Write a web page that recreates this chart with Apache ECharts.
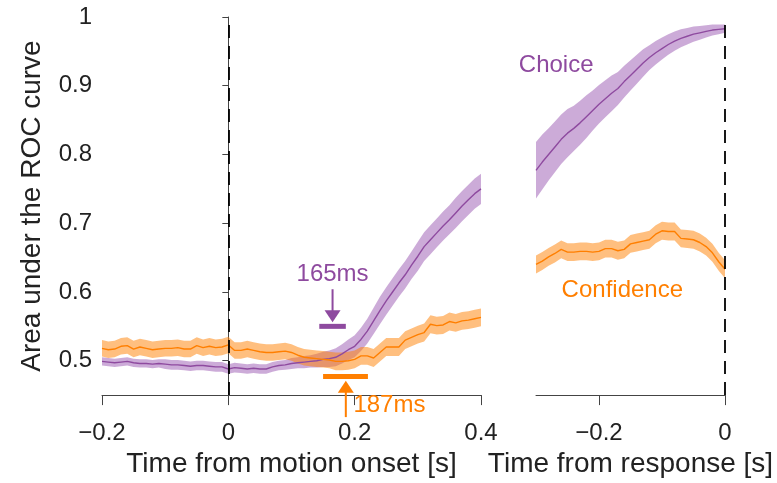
<!DOCTYPE html>
<html>
<head>
<meta charset="utf-8">
<script src="https://cdn.jsdelivr.net/npm/echarts@6/dist/echarts.min.js"></script>
<style>
  html, body { margin: 0; padding: 0; background: #fff; }
  #chart { width: 777px; height: 483px; }
</style>
</head>
<body>
<div id="chart"></div>
<script>
// Time axes (s)
const onsetTimes = [-0.20,-0.19,-0.18,-0.17,-0.16,-0.15,-0.14,-0.13,-0.12,-0.11,-0.10,-0.09,-0.08,-0.07,-0.06,-0.05,-0.04,-0.03,-0.02,-0.01,
  0.00,0.01,0.02,0.03,0.04,0.05,0.06,0.07,0.08,0.09,0.10,0.11,0.12,0.13,0.14,0.15,0.16,0.17,0.18,0.19,
  0.20,0.21,0.22,0.23,0.24,0.25,0.26,0.27,0.28,0.29,0.30,0.31,0.32,0.33,0.34,0.35,0.36,0.37,0.38,0.39,0.40];
const responseTimes = [-0.30,-0.29,-0.28,-0.27,-0.26,-0.25,-0.24,-0.23,-0.22,-0.21,-0.20,-0.19,-0.18,-0.17,-0.16,
  -0.15,-0.14,-0.13,-0.12,-0.11,-0.10,-0.09,-0.08,-0.07,-0.06,-0.05,-0.04,-0.03,-0.02,-0.01,0.00];

// Choice AUC aligned to motion onset, mean and half-width of the shaded band
const choiceOnset = [0.499,0.498,0.497,0.498,0.499,0.497,0.496,0.496,0.495,0.496,0.495,0.494,0.494,0.493,0.492,0.493,0.493,0.492,0.491,0.491,
  0.488,0.490,0.489,0.488,0.489,0.488,0.488,0.491,0.493,0.494,0.496,0.497,0.498,0.499,0.500,0.502,0.503,0.505,0.510,0.516,
  0.521,0.531,0.543,0.558,0.573,0.587,0.600,0.613,0.625,0.639,0.652,0.666,0.676,0.686,0.696,0.705,0.715,0.725,0.734,0.743,0.750];
const choiceOnsetErr = [0.006,0.006,0.006,0.006,0.006,0.006,0.006,0.006,0.006,0.006,0.007,0.007,0.007,0.007,0.007,0.007,0.007,0.007,0.007,0.007,
  0.007,0.007,0.007,0.007,0.007,0.007,0.007,0.007,0.007,0.007,0.008,0.008,0.009,0.009,0.010,0.011,0.012,0.013,0.014,0.015,
  0.016,0.017,0.018,0.019,0.020,0.020,0.020,0.020,0.020,0.020,0.021,0.021,0.021,0.021,0.021,0.021,0.022,0.022,0.022,0.022,0.022];

// Confidence AUC aligned to motion onset
const confOnset = [0.518,0.516,0.517,0.521,0.522,0.517,0.520,0.518,0.516,0.517,0.518,0.518,0.519,0.517,0.517,0.522,0.519,0.521,0.519,0.520,
  0.523,0.515,0.515,0.517,0.515,0.513,0.512,0.512,0.513,0.514,0.512,0.508,0.505,0.504,0.503,0.502,0.501,0.499,0.499,0.500,
  0.502,0.507,0.507,0.504,0.512,0.520,0.520,0.520,0.530,0.534,0.538,0.541,0.553,0.551,0.552,0.557,0.555,0.558,0.559,0.561,0.563];
const confOnsetErr = [0.012,0.012,0.012,0.012,0.012,0.012,0.012,0.012,0.012,0.012,0.012,0.012,0.012,0.012,0.012,0.012,0.012,0.012,0.012,0.012,
  0.012,0.012,0.012,0.012,0.012,0.012,0.012,0.012,0.012,0.012,0.012,0.012,0.012,0.012,0.012,0.012,0.012,0.013,0.013,0.013,
  0.013,0.013,0.013,0.013,0.013,0.013,0.013,0.013,0.013,0.013,0.013,0.013,0.013,0.013,0.013,0.013,0.013,0.013,0.013,0.013,0.013];

// Choice AUC aligned to response
const choiceResp = [0.777,0.789,0.800,0.811,0.822,0.831,0.838,0.846,0.855,0.864,0.873,0.881,0.889,0.896,0.906,
  0.915,0.924,0.933,0.941,0.948,0.954,0.960,0.965,0.969,0.972,0.975,0.977,0.979,0.981,0.982,0.983];
const choiceRespErr = [0.041,0.040,0.038,0.037,0.036,0.035,0.033,0.032,0.031,0.029,0.028,0.027,0.026,0.024,0.023,
  0.022,0.021,0.020,0.018,0.017,0.016,0.015,0.014,0.013,0.012,0.011,0.010,0.009,0.008,0.007,0.006];

// Confidence AUC aligned to response
const confResp = [0.640,0.645,0.651,0.656,0.662,0.658,0.658,0.659,0.659,0.658,0.659,0.663,0.663,0.660,0.662,
  0.670,0.672,0.674,0.676,0.684,0.689,0.688,0.688,0.678,0.677,0.676,0.672,0.666,0.657,0.644,0.633];
const confRespErr = [0.013,0.013,0.013,0.013,0.013,0.013,0.013,0.013,0.013,0.013,0.013,0.013,0.013,0.013,0.013,
  0.013,0.013,0.013,0.013,0.013,0.013,0.013,0.013,0.013,0.013,0.013,0.013,0.013,0.013,0.013,0.013];

// Axis ticks
const yTicks = [0.5, 0.6, 0.7, 0.8, 0.9, 1.0];
const onsetTicks = [-0.2, 0, 0.2, 0.4];
const responseTicks = [-0.2, 0];

// Latency markers (s)
const choiceLatency = 0.165;
const confLatency = 0.187;

const PURPLE = '#8e4a9f';
const PURPLE_BAND = 'rgba(142,68,168,0.45)';
const ORANGE = '#ff7f00';
const ORANGE_BAND = 'rgba(255,127,0,0.5)';
const FONT = '"Liberation Sans", Arial, Helvetica, sans-serif';
const AXIS = '#444';
const TEXT = '#222';
const TICK_SIZE = 24;
const TITLE_SIZE = 28;

const chart = echarts.init(document.getElementById('chart'), null, { renderer: 'canvas' });

const pairs = (xs, ys) => xs.map((x, i) => [x, ys[i]]);

// Shaded band drawn as a polygon through the axis scales
function band(gridIdx, xs, mean, err, fill, z) {
  return {
    type: 'custom',
    xAxisIndex: gridIdx, yAxisIndex: gridIdx,
    z: z, silent: true,
    data: [[xs[0], mean[0]]],
    renderItem: function (params, api) {
      const pts = [];
      for (let i = 0; i < xs.length; i++) pts.push(api.coord([xs[i], mean[i] + err[i]]));
      for (let i = xs.length - 1; i >= 0; i--) pts.push(api.coord([xs[i], mean[i] - err[i]]));
      return { type: 'polygon', shape: { points: pts }, style: { fill: fill } };
    }
  };
}

function meanLine(gridIdx, xs, mean, color, z, extra) {
  return Object.assign({
    type: 'line', xAxisIndex: gridIdx, yAxisIndex: gridIdx,
    data: pairs(xs, mean), symbol: 'none', z: z, silent: true,
    lineStyle: { color: color, width: 1.4 }, animation: false
  }, extra || {});
}

const zeroLine = {
  symbol: 'none', silent: true, animation: false,
  label: { show: false },
  lineStyle: { color: '#000', width: 1.8, type: [13, 8] },
  data: [{ xAxis: 0 }]
};

// Tick text with a typographic minus sign
const tickFmt = v => (Math.abs(v) < 1e-9 ? '0' : String(+v.toFixed(2)).replace('-', '\u2212'));

function xAxisCfg(gridIdx, min, max, ticks, title) {
  return {
    gridIndex: gridIdx, type: 'value', min: min, max: max, interval: 0.1,
    name: title, nameLocation: 'middle', nameGap: 53,
    nameTextStyle: { fontFamily: FONT, fontSize: TITLE_SIZE, color: TEXT },
    axisLine: { show: true, lineStyle: { color: AXIS, width: 1 } },
    axisTick: { show: true, inside: false, length: 10, lineStyle: { color: AXIS }, customValues: ticks },
    axisLabel: { fontFamily: FONT, fontSize: TICK_SIZE, color: TEXT, margin: 26, formatter: tickFmt, customValues: ticks },
    splitLine: { show: false }
  };
}

const option = {
  animation: false,
  backgroundColor: '#fff',
  textStyle: { fontFamily: FONT },
  grid: [
    { left: 102, right: 296, top: 17, bottom: 84 },
    { left: 536, right: 52, top: 17, bottom: 84 }
  ],
  xAxis: [
    xAxisCfg(0, -0.2, 0.4, onsetTicks, 'Time from motion onset [s]'),
    xAxisCfg(1, -0.3, 0, responseTicks, 'Time from response [s]')
  ],
  yAxis: [
    {
      gridIndex: 0, type: 'value', min: 0.45, max: 1, interval: 0.05,
      name: 'Area under the ROC curve', nameLocation: 'middle', nameGap: 56, nameRotate: 90,
      nameTextStyle: { fontFamily: FONT, fontSize: TITLE_SIZE, color: TEXT },
      axisLine: { show: true, lineStyle: { color: AXIS, width: 1 } },
      axisTick: { show: true, inside: false, length: 6, lineStyle: { color: AXIS }, customValues: yTicks },
      axisLabel: { fontFamily: FONT, fontSize: TICK_SIZE, color: TEXT, margin: 10, formatter: tickFmt, customValues: yTicks },
      splitLine: { show: false }
    },
    {
      gridIndex: 1, type: 'value', min: 0.45, max: 1, interval: 0.05,
      axisLine: { show: false }, axisTick: { show: false }, axisLabel: { show: false },
      splitLine: { show: false }
    }
  ],
  series: [
    band(0, onsetTimes, choiceOnset, choiceOnsetErr, PURPLE_BAND, 1),
    band(0, onsetTimes, confOnset, confOnsetErr, ORANGE_BAND, 2),
    meanLine(0, onsetTimes, choiceOnset, PURPLE, 3, { markLine: zeroLine }),
    meanLine(0, onsetTimes, confOnset, ORANGE, 4),
    band(1, responseTimes, choiceResp, choiceRespErr, PURPLE_BAND, 1),
    band(1, responseTimes, confResp, confRespErr, ORANGE_BAND, 2),
    meanLine(1, responseTimes, choiceResp, PURPLE, 3, { markLine: zeroLine }),
    meanLine(1, responseTimes, confResp, ORANGE, 4)
  ]
};

chart.setOption(option);

// Annotations placed through the axis scales
function px(gridIdx, x, y) {
  return chart.convertToPixel({ xAxisIndex: gridIdx, yAxisIndex: gridIdx }, [x, y]);
}

function label(pos, text, color, align) {
  return { type: 'text', silent: true, z: 10, x: pos[0], y: pos[1],
    style: { text: text, fill: color, font: TICK_SIZE + 'px ' + FONT, align: align, verticalAlign: 'middle' } };
}

function annotations() {
  const g = [];
  // Choice latency: label, down arrow, bar
  const cBarL = px(0, choiceLatency - 0.021, 0.550);
  const cBarR = px(0, choiceLatency + 0.021, 0.550);
  const cArrowTop = px(0, choiceLatency, 0.604);
  const cArrowTip = px(0, choiceLatency, 0.556);
  g.push({ type: 'line', silent: true, z: 10, shape: { x1: cBarL[0], y1: cBarL[1], x2: cBarR[0], y2: cBarR[1] }, style: { stroke: PURPLE, lineWidth: 5 } });
  g.push({ type: 'line', silent: true, z: 10, shape: { x1: cArrowTop[0], y1: cArrowTop[1], x2: cArrowTip[0], y2: cArrowTip[1] - 10 }, style: { stroke: PURPLE, lineWidth: 2 } });
  g.push({ type: 'polygon', silent: true, z: 10, shape: { points: [[cArrowTip[0] - 8, cArrowTip[1] - 12], [cArrowTip[0] + 8, cArrowTip[1] - 12], [cArrowTip[0], cArrowTip[1]]] }, style: { fill: PURPLE } });
  g.push(label(px(0, choiceLatency, 0.626), '165ms', PURPLE, 'center'));

  // Confidence latency: bar, up arrow, label
  const oBarL = px(0, confLatency - 0.037, 0.477);
  const oBarR = px(0, confLatency + 0.034, 0.477);
  const oArrowTip = px(0, confLatency - 0.001, 0.471);
  const oArrowBot = px(0, confLatency - 0.001, 0.418);
  g.push({ type: 'line', silent: true, z: 10, shape: { x1: oBarL[0], y1: oBarL[1], x2: oBarR[0], y2: oBarR[1] }, style: { stroke: ORANGE, lineWidth: 5 } });
  g.push({ type: 'line', silent: true, z: 10, shape: { x1: oArrowTip[0], y1: oArrowTip[1] + 10, x2: oArrowBot[0], y2: oArrowBot[1] }, style: { stroke: ORANGE, lineWidth: 2 } });
  g.push({ type: 'polygon', silent: true, z: 10, shape: { points: [[oArrowTip[0] - 8, oArrowTip[1] + 12], [oArrowTip[0] + 8, oArrowTip[1] + 12], [oArrowTip[0], oArrowTip[1]]] }, style: { fill: ORANGE } });
  g.push(label(px(0, confLatency + 0.011, 0.435), '187ms', ORANGE, 'left'));

  // Series labels
  g.push(label(px(1, -0.268, 0.929), 'Choice', PURPLE, 'center'));
  g.push(label(px(1, -0.163, 0.602), 'Confidence', ORANGE, 'center'));
  return g;
}

chart.setOption({ graphic: annotations() });
</script>
</body>
</html>
